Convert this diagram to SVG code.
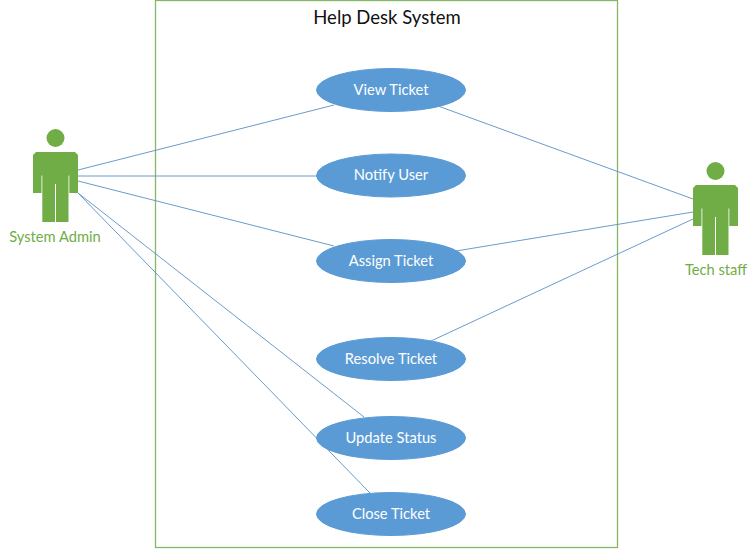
<svg xmlns="http://www.w3.org/2000/svg" width="756" height="549" viewBox="0 0 756 549">
<style>
text{font-family:"Lato","Open Sans","Liberation Sans",sans-serif}
.uc ellipse{fill:#5b9bd5;stroke:#5b9bd5}
.uc text{fill:#fff;font-size:14.7px;text-anchor:middle}
.actor{fill:#70ad47}
.actor text{font-size:14.7px;text-anchor:middle}
.conn line{stroke:#5b8fc4;stroke-width:.9}
</style>
<defs>
<g id="person">
<circle cx="55.500" cy="138" r="9"/>
<path d="M36 152H75L78 155V193H69.300V175.500H68.500V222H56V184H55V222H42.300V175.500H41.500V193H33V155Z"/>
</g>
</defs>
<rect width="756" height="549" fill="#fff"/>
<g id="boundary"><rect x="155.500" y="0.500" width="462" height="547" fill="none" stroke="#84b865" stroke-width="1.300"/><text x="387" y="24" font-size="18.500" text-anchor="middle" fill="#111">Help Desk System</text></g>
<g class="conn" id="connectors">
<line x1="78" y1="170" x2="334" y2="105"/>
<line x1="78" y1="176" x2="317" y2="176"/>
<line x1="78" y1="181" x2="334" y2="246"/>
<line x1="78" y1="193" x2="364" y2="417"/>
<line x1="78" y1="193" x2="370" y2="493"/>
<line x1="438" y1="106" x2="693" y2="199"/>
<line x1="456" y1="251" x2="693" y2="212"/>
<line x1="431" y1="341" x2="693" y2="219"/>
</g>
<g id="view-ticket" class="uc"><ellipse cx="391" cy="90" rx="74.500" ry="21.500"/><text x="391" y="95">View Ticket</text></g>
<g id="notify-user" class="uc"><ellipse cx="391" cy="175.500" rx="74.500" ry="21.500"/><text x="391" y="180">Notify User</text></g>
<g id="assign-ticket" class="uc"><ellipse cx="391" cy="261" rx="74.500" ry="21.500"/><text x="391" y="266">Assign Ticket</text></g>
<g id="resolve-ticket" class="uc"><ellipse cx="391" cy="359" rx="74.500" ry="21.500"/><text x="391" y="364">Resolve Ticket</text></g>
<g id="update-status" class="uc"><ellipse cx="391" cy="438" rx="74.500" ry="21.500"/><text x="391" y="443">Update Status</text></g>
<g id="close-ticket" class="uc"><ellipse cx="391" cy="514" rx="74.500" ry="21.500"/><text x="391" y="519">Close Ticket</text></g>
<g id="system-admin" class="actor"><use href="#person"/><text x="55" y="242">System Admin</text></g>
<g id="tech-staff" class="actor"><use href="#person" x="660" y="33"/><text x="716" y="275">Tech staff</text></g>
</svg>
